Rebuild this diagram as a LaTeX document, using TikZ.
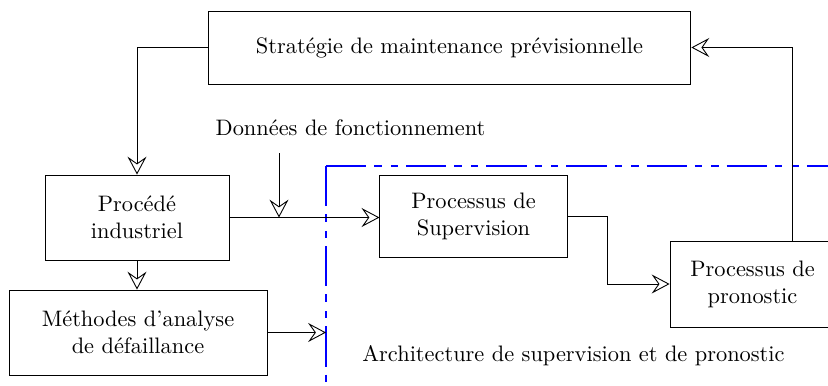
\documentclass[tikz,border=0pt]{standalone}
\usepackage{fontspec}
\usetikzlibrary{arrows.meta}

\begin{document}
\begin{tikzpicture}[x=0.0157cm, y=-0.0157cm, every node/.style={align=center, inner sep=0pt}]
  \tikzstyle{bloc}=[draw, thin]
  \tikzstyle{fleche}=[thin, -{Stealth[open, length=8pt, width=8.5pt, inset=3pt]}]
  \tikzstyle{archi}=[blue, line width=0.8pt, dash pattern=on 18pt off 3.6pt on 3.2pt off 4.2pt on 3.2pt off 3.6pt]

\clip (0,0) rectangle (828,385);

\node [bloc, minimum width=7.58cm, minimum height=1.146cm] (strat) at (449.5,47.5) {Stratégie de maintenance prévisionnelle};
\node [bloc, minimum width=2.89cm, minimum height=1.335cm] (proc) at (137,217.5) {Procédé\\industriel};
\node [bloc, minimum width=4.05cm, minimum height=1.335cm] (meth) at (138,332.5) {Méthodes d'analyse\\de défaillance};
\node [bloc, minimum width=2.94cm, minimum height=1.30cm] (sup) at (473.5,216.5) {Processus de\\Supervision};
\node [bloc, minimum width=2.59cm, minimum height=1.35cm] (pron) at (752.5,284) {Processus de\\pronostic};

\node (donnees) at (350.5,128) {Données de fonctionnement};
\node (archi) at (573.5,356) {Architecture de supervision et de pronostic};

\coordinate (coin) at (326,166);
\coordinate (entree) at (279,153);
\coordinate (jonction) at (279,217.5);

\draw[archi] (coin) -- (coin |- 0,385);
\draw[archi] (coin) -- (828,166);

\draw[fleche] (strat.west) -| (proc.north);
\draw[fleche] (proc.south) -- (proc.south |- meth.north);
\draw[fleche] (entree) -- (jonction);
\draw[fleche] (proc.east) -- (proc.east -| sup.west);
\draw[fleche] (sup.east) -- ++(40,0) |- (pron.west);
\draw[fleche] ([xshift=0.62cm]pron.north) |- (strat.east);
\draw[fleche] (meth.east) -- (meth.east -| coin);

\end{tikzpicture}
\end{document}
